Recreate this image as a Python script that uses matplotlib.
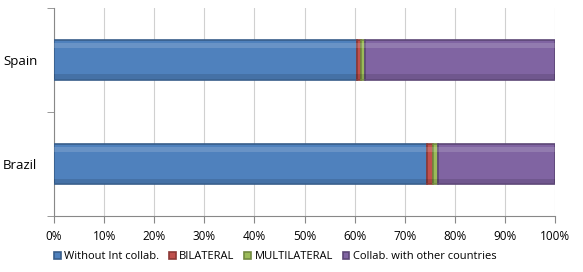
import matplotlib
matplotlib.use("Agg")
import matplotlib.pyplot as plt
from matplotlib.ticker import PercentFormatter

# Shares (%)
countries = ["Brazil", "Spain"]
series = ["Without Int collab.", "BILATERAL", "MULTILATERAL",
          "Collab. with other countries"]
without_int = [74.4, 60.5]
bilateral = [1.2, 0.8]
multilateral = [1.1, 0.8]
other_countries = [23.3, 37.9]

colors = ["#4F81BD", "#C0504D", "#9BBB59", "#8064A2"]
edges = ["#385D8A", "#8C3836", "#71893F", "#5C4776"]

plt.rcParams["font.family"] = ["Open Sans", "DejaVu Sans"]

fig = plt.figure(figsize=(5.83, 2.72), dpi=100)
ax = fig.add_axes([0.0926, 0.206, 0.8594, 0.765])

values = [without_int, bilateral, multilateral, other_countries]
left = [0.0] * len(countries)
ypos = list(range(len(countries)))
for name, vals, c, e in zip(series, values, colors, edges):
    ax.barh(ypos, vals, left=left, height=0.385, color=c, edgecolor=e,
            linewidth=1.2, label=name, zorder=3)
    # soft highlight near the top and shade at the bottom (Excel bevel)
    ax.barh([y + 0.14 for y in ypos], vals, left=left, height=0.05,
            color="white", alpha=0.15, linewidth=0, zorder=4)
    ax.barh([y - 0.16 for y in ypos], vals, left=left, height=0.04,
            color="black", alpha=0.12, linewidth=0, zorder=4)
    left = [l + v for l, v in zip(left, vals)]

ax.set_xlim(0, 100)
ax.set_ylim(-0.5, 1.5)
ax.set_xticks(range(0, 101, 10))
ax.xaxis.set_major_formatter(PercentFormatter(decimals=0))
ax.set_yticks(ypos)
ax.set_yticklabels(countries, fontsize=9.5)
ax.set_yticks([-0.5, 0.5, 1.5], minor=True)
ax.tick_params(axis="y", which="major", length=0, pad=12)
ax.tick_params(axis="y", which="minor", length=5, color="#888888")
ax.tick_params(axis="x", labelsize=8.5, length=5, color="#888888", pad=5)
ax.xaxis.grid(True, color="#D0D0D0", linewidth=0.8, zorder=0)

for side in ("top", "right"):
    ax.spines[side].set_visible(False)
for side in ("left", "bottom"):
    ax.spines[side].set_color("#888888")

fig.legend(loc="lower center", bbox_to_anchor=(0.472, 0.0), ncol=4,
           frameon=False, fontsize=8, handlelength=0.6, handleheight=0.6,
           handletextpad=0.3, columnspacing=0.9)

fig.savefig("out.png", dpi=100)
plt.close(fig)
